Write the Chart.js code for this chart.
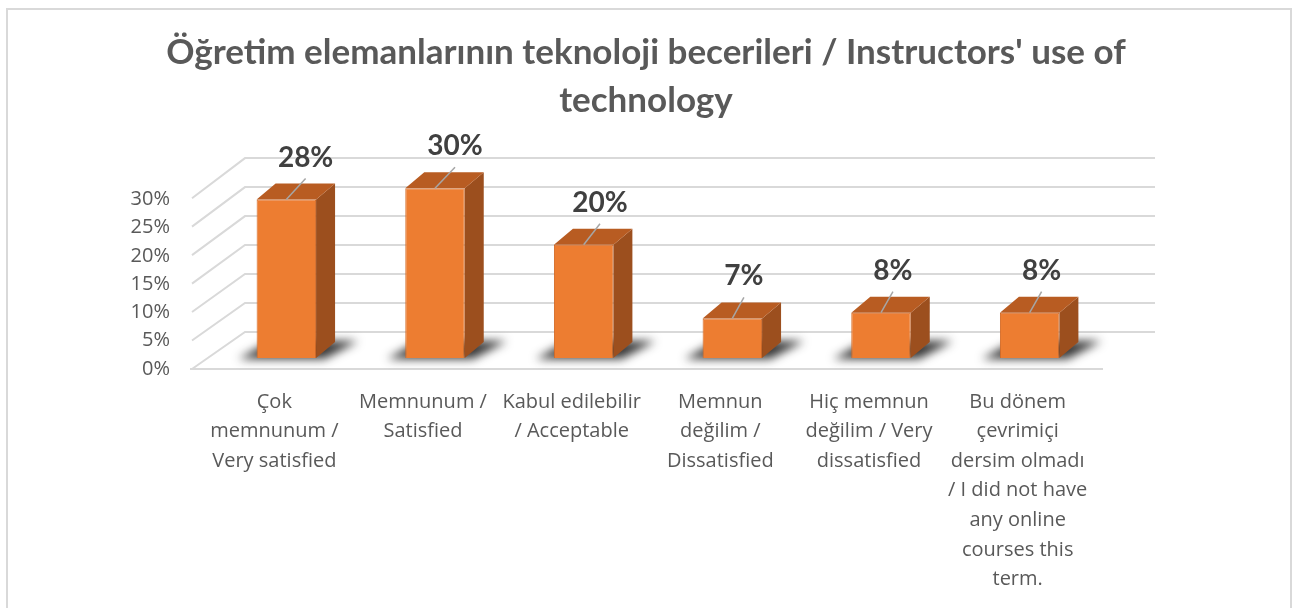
<!DOCTYPE html>
<html>
<head>
<meta charset="utf-8">
<script src="https://cdn.jsdelivr.net/npm/chart.js@4.4.0/dist/chart.umd.min.js"></script>
<style>
  html, body { margin: 0; padding: 0; background: #fff; overflow: hidden; }
  #wrap { position: relative; width: 1292px; height: 608px; }
  #frame { position: absolute; left: 6px; top: 8px; width: 1286px; height: 610px; border: 2px solid #d9d9d9; box-sizing: border-box; pointer-events: none; }
</style>
</head>
<body>
<div id="wrap">
  <canvas id="chart" width="1292" height="608"></canvas>
  <div id="frame"></div>
</div>
<script>
const categories = [
  ['Çok', 'memnunum /', 'Very satisfied'],
  ['Memnunum /', 'Satisfied'],
  ['Kabul edilebilir', '/ Acceptable'],
  ['Memnun', 'değilim /', 'Dissatisfied'],
  ['Hiç memnun', 'değilim / Very', 'dissatisfied'],
  ['Bu dönem', 'çevrimiçi', 'dersim olmadı', '/ I did not have', 'any online', 'courses this', 'term.']
];
const shares = [0.28, 0.30, 0.20, 0.07, 0.08, 0.08];
const yTicks = [0, 0.05, 0.10, 0.15, 0.20, 0.25, 0.30];

const TITLE_FONT = 'Lato, "Open Sans", sans-serif';
const TICK_FONT = '"Open Sans", Lato, sans-serif';
const DEPTH_X = 19;
const DEPTH_Y = 16;

// fake 3d: back wall grid, side wall, floor, bar sides/tops, labels
const box3d = {
  id: 'box3d',
  beforeDatasetsDraw(chart) {
    const { ctx, chartArea } = chart;
    const y = chart.scales.y;
    const backY = v => chartArea.bottom - 26 - (chartArea.bottom - y.getPixelForValue(v)) * 1.024;
    const frontY = v => chartArea.bottom + 11 - (chartArea.bottom - y.getPixelForValue(v)) * 1.006;
    const backLeft = chartArea.left + 33;
    const backRight = chartArea.right + 51;
    const frontLeft = chartArea.left - 20;

    ctx.save();
    ctx.strokeStyle = '#d9d9d9';
    ctx.lineWidth = 2;
    yTicks.forEach(v => {
      ctx.beginPath();
      ctx.moveTo(frontLeft, frontY(v));
      ctx.lineTo(backLeft, backY(v));
      ctx.lineTo(backRight, backY(v));
      ctx.stroke();
    });
    ctx.beginPath();
    ctx.moveTo(frontLeft - 2, frontY(0));
    ctx.lineTo(chartArea.right - 1, frontY(0));
    ctx.stroke();

    // floor shadows
    const meta = chart.getDatasetMeta(0);
    ctx.filter = 'blur(5px)';
    ctx.fillStyle = 'rgba(20,20,20,0.85)';
    meta.data.forEach(bar => {
      const x0 = bar.x - bar.width / 2;
      const x1 = bar.x + bar.width / 2;
      const b = bar.base;
      ctx.beginPath();
      ctx.moveTo(x0 - 18, b + 1);
      ctx.lineTo(x1 + 8, b + 1);
      ctx.lineTo(x1 + 42, b - 17);
      ctx.lineTo(x0 + 14, b - 17);
      ctx.closePath();
      ctx.fill();
    });
    ctx.restore();
  },
  afterDatasetsDraw(chart) {
    const { ctx } = chart;
    const meta = chart.getDatasetMeta(0);
    const h = chart.chartArea.bottom - chart.chartArea.top;
    ctx.save();
    meta.data.forEach((bar, i) => {
      const x0 = bar.x - bar.width / 2;
      const x1 = bar.x + bar.width / 2;
      const top = bar.y;
      const b = bar.base;
      // side
      ctx.fillStyle = '#9c4f1e';
      ctx.beginPath();
      ctx.moveTo(x1, top);
      ctx.lineTo(x1 + DEPTH_X, top - DEPTH_Y);
      ctx.lineTo(x1 + DEPTH_X, b - DEPTH_Y);
      ctx.lineTo(x1, b);
      ctx.closePath();
      ctx.fill();
      // top
      ctx.fillStyle = '#b85c22';
      ctx.beginPath();
      ctx.moveTo(x0, top);
      ctx.lineTo(x0 + DEPTH_X, top - DEPTH_Y);
      ctx.lineTo(x1 + DEPTH_X, top - DEPTH_Y);
      ctx.lineTo(x1, top);
      ctx.closePath();
      ctx.fill();

      // leader line + value label
      const frac = (b - top) / h;
      const lx = bar.x + 9 + frac * 11;
      const ly = top - 42;
      ctx.strokeStyle = '#a6a6a6';
      ctx.lineWidth = 1.5;
      ctx.beginPath();
      ctx.moveTo(bar.x, top);
      ctx.lineTo(lx, ly + 21);
      ctx.stroke();

      ctx.fillStyle = '#404040';
      ctx.font = 'bold 28px ' + TITLE_FONT;
      ctx.textAlign = 'center';
      ctx.textBaseline = 'middle';
      ctx.fillText(Math.round(shares[i] * 100) + '%', lx, ly);
    });
    ctx.restore();
  }
};

new Chart(document.getElementById('chart'), {
  type: 'bar',
  data: {
    labels: categories,
    datasets: [{
      data: shares,
      backgroundColor: '#ed7d31',
      borderColor: '#d36a26',
      borderWidth: 1,
      barPercentage: 0.4,
      categoryPercentage: 1
    }]
  },
  options: {
    responsive: false,
    animation: false,
    layout: { padding: { top: 23, right: 0, bottom: 0, left: 0 } },
    plugins: {
      legend: { display: false },
      tooltip: { enabled: false },
      title: {
        display: true,
        text: ["Öğretim elemanlarının teknoloji becerileri / Instructors' use of", 'technology'],
        color: '#595959',
        font: { family: TITLE_FONT, size: 35, weight: 'bold', lineHeight: 1.36 },
        padding: { top: 6, bottom: 64 }
      }
    },
    scales: {
      x: {
        grid: { display: false, drawTicks: false },
        border: { display: false },
        ticks: {
          color: '#595959',
          font: { family: TICK_FONT, size: 20, lineHeight: 1.48 },
          padding: 29,
          labelOffset: -12,
          maxRotation: 0,
          autoSkip: false
        },
        afterFit(scale) { scale.height = 250; }
      },
      y: {
        min: 0,
        max: 0.3,
        grid: { display: false, drawTicks: false },
        border: { display: false },
        ticks: {
          stepSize: 0.05,
          color: '#595959',
          font: { family: TICK_FONT, size: 20 },
          padding: 42,
          labelOffset: 11,
          callback: v => Math.round(v * 100) + '%'
        },
        afterFit(scale) { scale.width = 212; }
      },
      // empty right-hand space so the plot ends where the reference does
      spacer: {
        type: 'linear',
        position: 'right',
        display: true,
        grid: { display: false, drawTicks: false },
        border: { display: false },
        ticks: { display: false },
        afterFit(scale) { scale.width = 188; }
      }
    }
  },
  plugins: [box3d]
});
</script>
</body>
</html>
